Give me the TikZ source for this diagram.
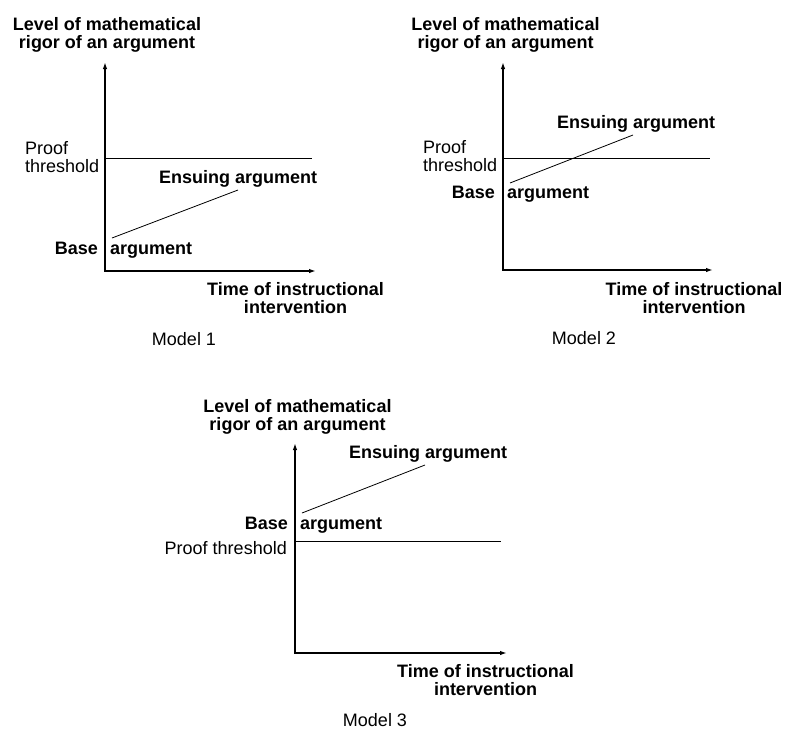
\documentclass[tikz,border=0pt]{standalone}
\usepackage{fontspec}
\setmainfont{Liberation Sans}
\usetikzlibrary{arrows.meta}
\begin{document}
\begin{tikzpicture}[x=1pt, y=-1pt,
  axis/.style={line width=1.5pt, {Latex[length=7pt,width=4.5pt]}-{Latex[length=7pt,width=4.5pt]}},
  level/.style={line width=0.8pt},
  tag/.style={font=\fontsize{18}{18}\selectfont, inner sep=0pt},
  boldtag/.style={tag, font=\fontsize{18}{18}\selectfont\bfseries, align=center}]
  \useasboundingbox (0,0) rectangle (798,729);
  \draw[axis] (105,62) -- (105,271) -- (316,271);
  \draw[level] (105,158) -- (312,158);
  \draw[level] (112,238) -- (238,190);
  \node[boldtag, anchor=base] (rigor1) at (107,48.5) {Level of mathematical\\rigor of an argument};
  \node[tag, anchor=base west, align=left] (proof1) at (25,172) {Proof\\threshold};
  \node[boldtag, anchor=base west] (ensuing1) at (159,183) {Ensuing argument};
  \node[boldtag, anchor=base east] (base1) at (98,254) {Base};
  \node[boldtag, anchor=base west] (arg1) at (110,254) {argument};
  \node[boldtag, anchor=base] (time1) at (295.5,313) {Time of instructional\\intervention};
  \node[tag, anchor=base] (model1) at (184,345) {Model 1};
  \draw[axis] (503,62) -- (503,270) -- (713,270);
  \draw[level] (503,158) -- (710,158);
  \draw[level] (510,183) -- (633,135);
  \node[boldtag, anchor=base] (rigor2) at (505.5,48.5) {Level of mathematical\\rigor of an argument};
  \node[tag, anchor=base west, align=left] (proof2) at (423,171.5) {Proof\\threshold};
  \node[boldtag, anchor=base west] (ensuing2) at (557,128) {Ensuing argument};
  \node[boldtag, anchor=base east] (base2) at (495,198) {Base};
  \node[boldtag, anchor=base west] (arg2) at (507,198) {argument};
  \node[boldtag, anchor=base] (time2) at (694,313) {Time of instructional\\intervention};
  \node[tag, anchor=base] (model2) at (584,344) {Model 2};
  \draw[axis] (295,443) -- (295,653) -- (507,653);
  \draw[level] (295,541) -- (501,541);
  \draw[level] (302,513) -- (425,465);
  \node[boldtag, anchor=base] (rigor3) at (297.5,430) {Level of mathematical\\rigor of an argument};
  \node[tag, anchor=base east] (proof3) at (287,554) {Proof threshold};
  \node[boldtag, anchor=base west] (ensuing3) at (349,458) {Ensuing argument};
  \node[boldtag, anchor=base east] (base3) at (288,529) {Base};
  \node[boldtag, anchor=base west] (arg3) at (300,529) {argument};
  \node[boldtag, anchor=base] (time3) at (485.5,695) {Time of instructional\\intervention};
  \node[tag, anchor=base] (model3) at (375,726) {Model 3};
\end{tikzpicture}
\end{document}
